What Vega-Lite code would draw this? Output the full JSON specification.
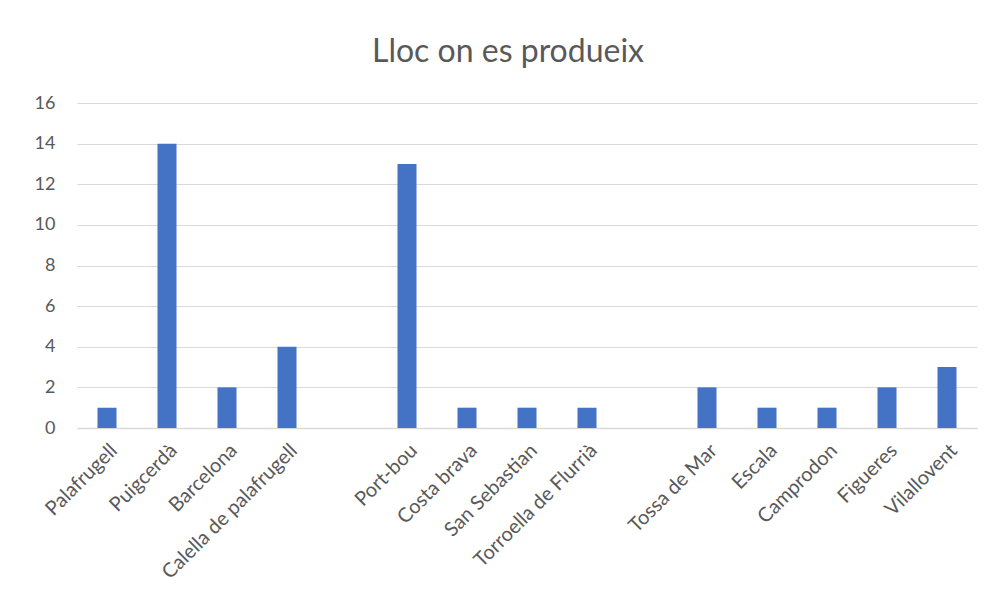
{
  "$schema": "https://vega.github.io/schema/vega-lite/v6.json",
  "autosize": {"type": "none"},
  "width": 900,
  "height": 325,
  "padding": {"left": 77, "top": 103, "right": 13, "bottom": 186},
  "background": "white",
  "title": {
    "text": "Lloc on es produeix",
    "fontSize": 32,
    "font": "Lato",
    "fontWeight": "normal",
    "color": "#595959",
    "anchor": "middle",
    "dx": -19,
    "offset": 25
  },
  "data": {
    "values": [
      {"lloc": "Palafrugell", "n": 1},
      {"lloc": "Puigcerdà", "n": 14},
      {"lloc": "Barcelona", "n": 2},
      {"lloc": "Calella de palafrugell", "n": 4},
      {"lloc": "Port-bou", "n": 13},
      {"lloc": "Costa brava", "n": 1},
      {"lloc": "San Sebastian", "n": 1},
      {"lloc": "Torroella de Flurrià", "n": 1},
      {"lloc": "Tossa de Mar", "n": 2},
      {"lloc": "Escala", "n": 1},
      {"lloc": "Camprodon", "n": 1},
      {"lloc": "Figueres", "n": 2},
      {"lloc": "Vilallovent", "n": 3}
    ]
  },
  "mark": {"type": "bar", "color": "#4472C4"},
  "encoding": {
    "x": {
      "field": "lloc",
      "type": "nominal",
      "title": null,
      "scale": {
        "domain": ["Palafrugell", "Puigcerdà", "Barcelona", "Calella de palafrugell", " ", "Port-bou", "Costa brava", "San Sebastian", "Torroella de Flurrià", "  ", "Tossa de Mar", "Escala", "Camprodon", "Figueres", "Vilallovent"],
        "paddingInner": 0.683,
        "paddingOuter": 0.3415
      },
      "axis": {
        "labelAngle": -45,
        "labelFont": "Lato",
        "labelFontSize": 20,
        "labelColor": "#595959",
        "labelPadding": 12,
        "labelLimit": 400,
        "ticks": false,
        "domainColor": "#d9d9d9",
        "domainWidth": 1.5,
        "grid": false
      }
    },
    "y": {
      "field": "n",
      "type": "quantitative",
      "title": null,
      "scale": {"domain": [0, 16], "nice": false},
      "axis": {
        "values": [0, 2, 4, 6, 8, 10, 12, 14, 16],
        "labelFont": "Lato",
        "labelFontSize": 18,
        "labelColor": "#595959",
        "labelPadding": 22,
        "ticks": false,
        "domain": false,
        "gridColor": "#d9d9d9",
        "gridWidth": 1.2
      }
    }
  },
  "config": {"view": {"stroke": null}}
}
